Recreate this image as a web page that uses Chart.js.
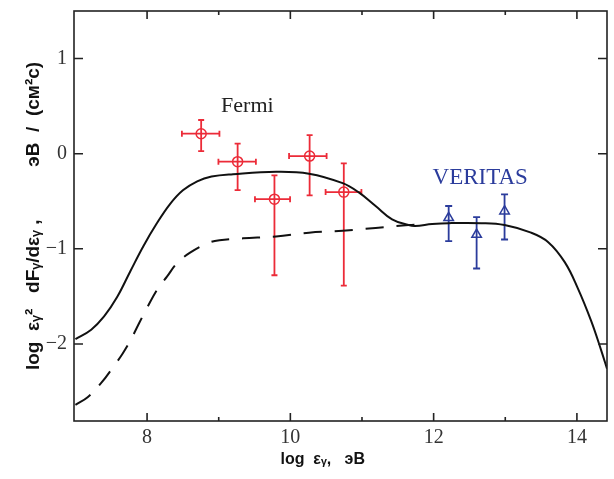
<!DOCTYPE html>
<html>
<head>
<meta charset="utf-8">
<script src="https://cdn.jsdelivr.net/npm/chart.js@4/dist/chart.umd.min.js"></script>
<style>
  html, body { margin: 0; padding: 0; background: #fff; }
  #wrap { width: 614px; height: 479px; }
</style>
</head>
<body>
<div id="wrap"><canvas id="sed"></canvas></div>
<script>
// model curves
var modelX  = [7.0, 7.22, 7.40, 7.58, 7.77, 7.95, 8.13, 8.32, 8.50, 8.70, 8.90, 9.20, 9.80, 10.26, 10.73, 10.96, 11.19, 11.42, 11.65, 11.74, 11.98, 12.21, 12.67, 12.99, 13.36, 13.60, 13.83, 14.01, 14.20, 14.34, 14.42];
var modelY  = [-1.95, -1.85, -1.71, -1.51, -1.23, -0.97, -0.74, -0.53, -0.385, -0.29, -0.24, -0.215, -0.19, -0.21, -0.31, -0.41, -0.55, -0.69, -0.75, -0.76, -0.74, -0.73, -0.73, -0.75, -0.83, -0.93, -1.14, -1.41, -1.76, -2.07, -2.26];
var dashX   = [7.0, 7.17, 7.36, 7.52, 7.66, 7.77, 7.89, 8.0, 8.14, 8.28, 8.42, 8.60, 8.85, 9.01, 9.34, 9.80, 10.26, 10.73, 11.19, 11.65, 11.80];
var dashY   = [-2.64, -2.56, -2.41, -2.25, -2.10, -1.96, -1.78, -1.62, -1.43, -1.29, -1.15, -1.04, -0.94, -0.91, -0.89, -0.87, -0.83, -0.81, -0.78, -0.75, -0.745];

// Fermi points with x and y errors
var fermiX    = [8.755, 9.264, 9.778, 10.269, 10.746];
var fermiY    = [0.21, -0.084, -0.478, -0.025, -0.404];
var fermiXLo  = [8.486, 8.996, 9.506, 9.982, 10.492];
var fermiXHi  = [9.01, 9.519, 9.996, 10.506, 10.992];
var fermiYLo  = [0.027, -0.383, -1.278, -0.439, -1.386];
var fermiYHi  = [0.354, 0.105, -0.228, 0.196, -0.102];

// VERITAS points with y errors
var veritasX   = [12.21, 12.60, 12.99];
var veritasY   = [-0.674, -0.85, -0.604];
var veritasYLo = [-0.92, -1.207, -0.902];
var veritasYHi = [-0.55, -0.667, -0.428];

var xTicks = [8, 10, 12, 14];
var xMinor = [9, 11, 13];
var yTicks = [1, 0, -1, -2];

var RED = '#ec2b38';
var BLUE = '#2b3c9c';

function pts(xs, ys) {
    var out = [];
    for (var i in xs) out.push({x: xs[i], y: ys[i]});
    return out;
}

// error bars, labels, frame and inward ticks
var extras = {
    id: 'extras',
    beforeDatasetsDraw: function(chart) {
        var ctx = chart.ctx, xs = chart.scales.x, ys = chart.scales.y;
        ctx.save();
        ctx.lineWidth = 1.8;
        ctx.strokeStyle = RED;
        for (var i in fermiX) {
            var px = xs.getPixelForValue(fermiX[i]), py = ys.getPixelForValue(fermiY[i]);
            var x0 = xs.getPixelForValue(fermiXLo[i]), x1 = xs.getPixelForValue(fermiXHi[i]);
            var y0 = ys.getPixelForValue(fermiYLo[i]), y1 = ys.getPixelForValue(fermiYHi[i]);
            ctx.beginPath();
            ctx.moveTo(x0, py); ctx.lineTo(x1, py);
            ctx.moveTo(x0, py - 3); ctx.lineTo(x0, py + 3);
            ctx.moveTo(x1, py - 3); ctx.lineTo(x1, py + 3);
            ctx.moveTo(px, y0); ctx.lineTo(px, y1);
            ctx.moveTo(px - 3, y0); ctx.lineTo(px + 3, y0);
            ctx.moveTo(px - 3, y1); ctx.lineTo(px + 3, y1);
            ctx.stroke();
        }
        ctx.strokeStyle = BLUE;
        for (var j in veritasX) {
            var vx = xs.getPixelForValue(veritasX[j]);
            var v0 = ys.getPixelForValue(veritasYLo[j]), v1 = ys.getPixelForValue(veritasYHi[j]);
            ctx.beginPath();
            ctx.moveTo(vx, v0); ctx.lineTo(vx, v1);
            ctx.moveTo(vx - 3.5, v0); ctx.lineTo(vx + 3.5, v0);
            ctx.moveTo(vx - 3.5, v1); ctx.lineTo(vx + 3.5, v1);
            ctx.stroke();
        }
        ctx.restore();
    },
    afterDatasetsDraw: function(chart) {
        var ctx = chart.ctx, xs = chart.scales.x, ys = chart.scales.y, a = chart.chartArea;
        ctx.save();
        // text labels
        ctx.textAlign = 'center';
        ctx.textBaseline = 'middle';
        ctx.font = '22px "Liberation Serif"';
        ctx.fillStyle = '#222';
        ctx.fillText('Fermi', xs.getPixelForValue(9.40), ys.getPixelForValue(0.50));
        ctx.font = '23px "Liberation Serif"';
        ctx.fillStyle = BLUE;
        ctx.fillText('VERITAS', xs.getPixelForValue(12.65), ys.getPixelForValue(-0.25));
        // frame
        ctx.strokeStyle = '#222';
        ctx.lineWidth = 1.6;
        ctx.strokeRect(a.left, a.top, a.right - a.left, a.bottom - a.top);
        // inward ticks
        ctx.beginPath();
        xTicks.forEach(function(v) {
            var p = xs.getPixelForValue(v);
            ctx.moveTo(p, a.bottom); ctx.lineTo(p, a.bottom - 8);
            ctx.moveTo(p, a.top); ctx.lineTo(p, a.top + 8);
        });
        xMinor.forEach(function(v) {
            var p = xs.getPixelForValue(v);
            ctx.moveTo(p, a.bottom); ctx.lineTo(p, a.bottom - 4);
            ctx.moveTo(p, a.top); ctx.lineTo(p, a.top + 4);
        });
        yTicks.forEach(function(v) {
            var p = ys.getPixelForValue(v);
            ctx.moveTo(a.left, p); ctx.lineTo(a.left + 9, p);
            ctx.moveTo(a.right, p); ctx.lineTo(a.right - 9, p);
        });
        ctx.stroke();
        ctx.restore();
    }
};

var chart = new Chart(document.getElementById('sed'), {
    type: 'scatter',
    data: {
        datasets: [
            {
                type: 'line',
                data: pts(modelX, modelY),
                borderColor: '#111',
                borderWidth: 2,
                pointRadius: 0,
                tension: 0.4,
                fill: false
            },
            {
                type: 'line',
                data: pts(dashX, dashY),
                borderColor: '#111',
                borderWidth: 2,
                borderDash: [18, 13],
                pointRadius: 0,
                tension: 0.4,
                fill: false
            },
            {
                label: 'Fermi',
                data: pts(fermiX, fermiY),
                pointStyle: 'circle',
                pointRadius: 5,
                pointBorderWidth: 1.5,
                borderColor: RED,
                backgroundColor: 'rgba(0,0,0,0)'
            },
            {
                label: 'VERITAS',
                data: pts(veritasX, veritasY),
                pointStyle: 'triangle',
                pointRadius: 5.5,
                pointBorderWidth: 1.5,
                borderColor: BLUE,
                backgroundColor: 'rgba(0,0,0,0)'
            }
        ]
    },
    options: {
        responsive: true,
        maintainAspectRatio: false,
        animation: false,
        layout: { padding: { top: 11, right: 5, left: 0, bottom: 0 } },
        plugins: {
            legend: { display: false },
            tooltip: { enabled: false }
        },
        scales: {
            x: {
                type: 'linear',
                min: 6.98,
                max: 14.42,
                afterBuildTicks: function(scale) {
                    scale.ticks = xTicks.map(function(v) { return {value: v}; });
                },
                afterFit: function(scale) {
                    scale.height = 58;
                    scale.paddingLeft = 0;
                    scale.paddingRight = 0;
                },
                grid: { display: false, drawTicks: false },
                border: { display: false },
                ticks: {
                    padding: 5,
                    color: '#333',
                    font: { family: '"Liberation Serif"', size: 20 },
                    maxRotation: 0
                },
                title: {
                    display: true,
                    text: 'log  εᵧ,   эВ        ',
                    color: '#111',
                    font: { family: '"Liberation Sans"', size: 16, weight: 'bold' },
                    padding: { top: 4, bottom: 10 }
                }
            },
            y: {
                type: 'linear',
                min: -2.81,
                max: 1.5,
                afterBuildTicks: function(scale) {
                    scale.ticks = yTicks.map(function(v) { return {value: v}; });
                },
                afterFit: function(scale) {
                    scale.width = 74;
                    scale.paddingTop = 0;
                    scale.paddingBottom = 0;
                },
                grid: { display: false, drawTicks: false },
                border: { display: false },
                ticks: {
                    padding: 7,
                    color: '#333',
                    font: { family: '"Liberation Serif"', size: 20 },
                    callback: function(v) { return v < 0 ? '\u2212' + Math.abs(v) : '' + v; }
                },
                title: {
                    display: true,
                    text: 'log  εᵧ²   dFᵧ/dεᵧ ,          эВ  /  (см²с)',
                    color: '#111',
                    font: { family: '"Liberation Sans"', size: 19, weight: 'bold' },
                    padding: { top: 22, bottom: 0 }
                }
            }
        }
    },
    plugins: [extras]
});
</script>
</body>
</html>
